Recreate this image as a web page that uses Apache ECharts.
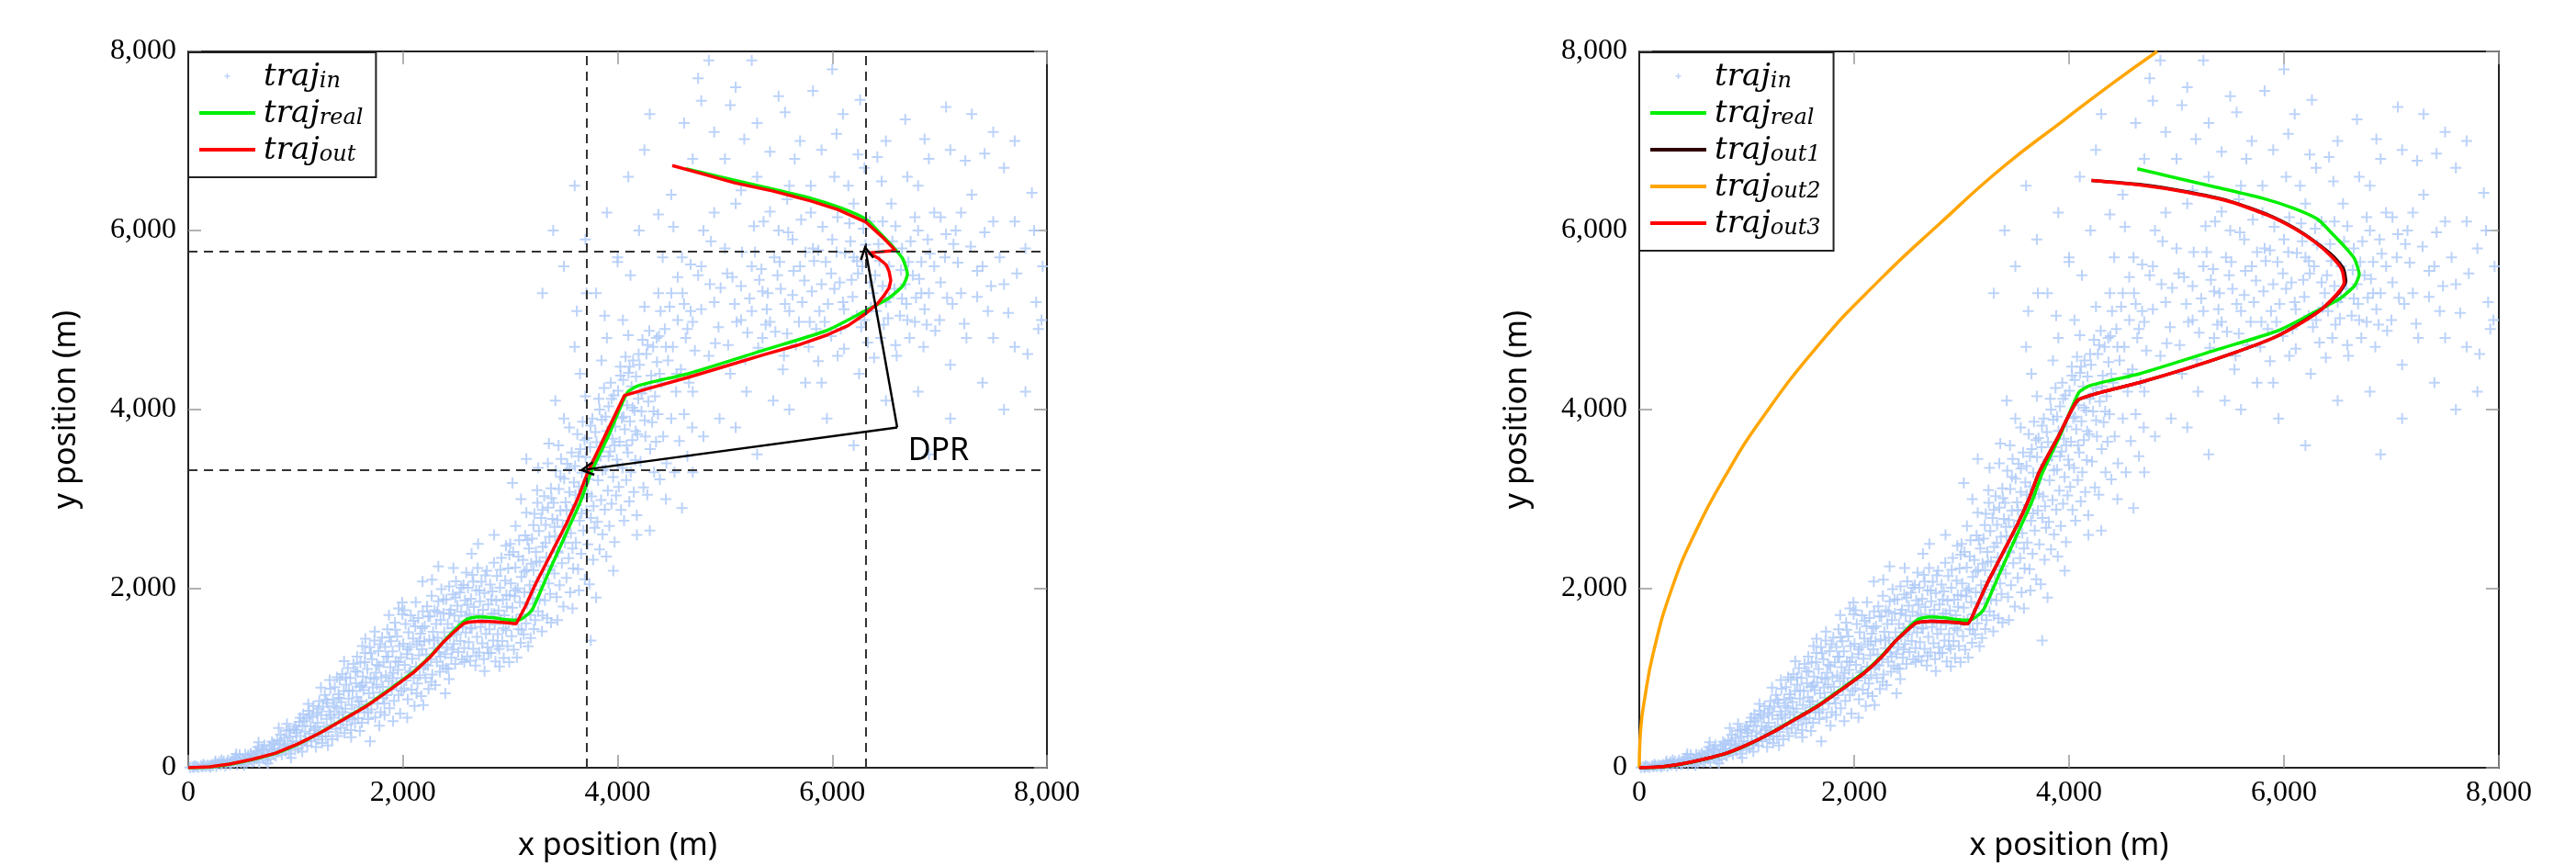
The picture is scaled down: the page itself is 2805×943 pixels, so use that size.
<!DOCTYPE html>
<html>
<head>
<meta charset="utf-8">
<title>traj</title>
<script src="https://cdn.jsdelivr.net/npm/echarts@6/dist/echarts.min.js"></script>
<style>
  html, body { margin: 0; padding: 0; background: #fff; }
  #chart { width: 2805px; height: 943px; }
</style>
</head>
<body>
<div id="chart"></div>
<script>
// axis range (both panels)
var axisMin = 0, axisMax = 8000, axisStep = 2000;

// noisy measured positions (shared by both panels)
var trajIn = [
  [15,3],[38,10],[52,2],[77,14],[95,6],[118,20],[133,9],[150,26],[166,12],[181,31],[197,17],[60,22],[140,35],
  [208,8],[219,36],[233,22],[247,51],[262,14],[275,40],[289,63],[301,27],[318,48],[331,72],[346,19],[358,57],[371,84],[385,36],[396,66],[254,75],[310,88],
  [404,44],[418,97],[426,61],[441,120],[455,33],[467,80],[479,143],[492,58],[506,104],[518,72],[531,150],[543,47],[556,118],[569,89],[582,160],[594,66],[447,155],[521,25],
  [606,130],[613,74],[627,188],[639,101],[648,231],[661,60],[674,152],[686,208],[697,117],[709,255],[722,84],[731,176],[745,135],[758,240],[767,98],[779,199],[792,151],[798,270],[655,285],[741,48],
  [806,212],[815,131],[828,305],[836,176],[849,258],[861,370],[872,145],[884,222],[893,331],[905,190],[916,412],[927,268],[938,158],[951,349],[962,236],[973,298],[984,433],[996,201],[843,444],[958,110],[920,490],
  [1007,288],[1014,421],[1026,219],[1033,512],[1045,354],[1052,265],[1064,470],[1071,598],[1083,306],[1090,402],[1102,549],[1109,247],[1121,637],[1128,380],[1140,465],[1147,296],[1159,566],[1166,688],[1178,351],[1185,443],[1197,612],[1190,232],[1118,712],[1062,180],
  [1204,502],[1212,318],[1221,744],[1229,410],[1238,586],[1246,276],[1255,681],[1263,460],[1272,812],[1280,352],[1289,545],[1297,724],[1306,401],[1314,627],[1323,883],[1331,480],[1340,319],[1348,762],[1357,558],[1365,901],[1374,434],[1382,668],[1391,355],[1399,820],[1236,895],[1318,980],[1385,1010],[1301,250],
  [1404,592],[1411,981],[1419,447],[1426,733],[1434,1047],[1441,521],[1449,856],[1456,386],[1464,659],[1471,928],[1479,480],[1486,1112],[1494,772],[1501,566],[1509,1003],[1516,420],[1524,699],[1531,858],[1539,1160],[1546,615],[1554,497],[1561,944],[1569,788],[1576,1071],[1584,553],[1591,675],[1599,903],[1452,1190],[1573,1240],[1518,342],[1599,410],
  [1604,1174],[1611,742],[1618,503],[1626,1018],[1633,866],[1640,618],[1647,1283],[1655,951],[1662,707],[1669,1102],[1676,544],[1684,832],[1691,1347],[1698,1006],[1705,652],[1713,1212],[1720,897],[1727,781],[1734,1420],[1742,562],[1749,1061],[1756,928],[1763,715],[1771,1302],[1778,1134],[1785,842],[1792,620],[1799,1011],[1694,296],[1650,1440],[1738,1520],[1780,470],[1622,1360],
  [1806,1455],[1813,903],[1820,1176],[1827,720],[1834,1348],[1841,1031],[1848,811],[1855,1547],[1862,1240],[1869,966],[1876,663],[1883,1122],[1890,1412],[1897,874],[1904,1301],[1911,1058],[1918,745],[1925,1620],[1932,1188],[1939,937],[1946,1466],[1953,1093],[1960,814],[1967,1360],[1974,604],[1981,1234],[1988,1002],[1995,1712],[1993,1845],[1870,1705],[1829,590],[1960,1780],[1908,520],
  [2003,1385],[2010,888],[2017,1150],[2024,1604],[2031,975],[2038,1270],[2045,764],[2052,1512],[2059,1061],[2066,1348],[2073,1702],[2080,872],[2087,1219],[2094,1443],[2101,1005],[2108,690],[2115,1580],[2122,1127],[2129,1376],[2136,940],[2143,1671],[2150,1256],[2157,1034],[2164,1498],[2171,801],[2178,1322],[2185,1745],[2192,1110],[2199,1412],[2183,2080],[2120,1850],[2040,560],[2190,700],
  [2204,1580],[2211,1002],[2218,1266],[2225,1803],[2232,1141],[2239,880],[2246,1432],[2253,1689],[2260,1213],[2267,1920],[2274,1041],[2281,1517],[2288,1336],[2295,1760],[2302,924],[2309,1605],[2316,1182],[2323,1452],[2330,1858],[2337,1290],[2344,1071],[2351,1650],[2358,1994],[2365,1387],[2372,1140],[2379,1722],[2386,1512],[2393,1268],[2330,2250],[2271,2100],[2395,830],
  [2403,1880],[2410,1347],[2417,1604],[2424,1104],[2431,2025],[2438,1465],[2445,1763],[2452,1230],[2459,1558],[2466,1936],[2473,1382],[2480,1701],[2487,1160],[2494,2081],[2501,1489],[2508,1810],[2515,1292],[2522,1636],[2529,1957],[2536,1415],[2543,1741],[2550,1210],[2557,1575],[2564,2040],[2571,1336],[2578,1868],[2585,1510],[2592,1698],[2599,1244],[2470,2230],[2590,2180],[2430,990],
  [2606,2010],[2613,1403],[2620,1718],[2627,1195],[2634,1886],[2641,1555],[2648,2154],[2655,1327],[2662,1794],[2669,1627],[2676,1140],[2683,1981],[2690,1462],[2697,2230],[2704,1710],[2711,1288],[2718,1860],[2725,1573],[2732,2077],[2739,1390],[2746,1765],[2753,1214],[2760,1952],[2767,1648],[2774,1496],[2781,2200],[2788,1347],[2795,1822],[2700,2500],[2640,2390],[2760,1080],
  [2806,1545],[2813,2046],[2820,1281],[2827,1720],[2834,1968],[2841,1420],[2848,2290],[2855,1602],[2862,1187],[2869,1866],[2876,2140],[2883,1492],[2890,1757],[2897,1325],[2904,2009],[2911,1654],[2918,2344],[2925,1415],[2932,1878],[2939,1225],[2946,1702],[2953,2090],[2960,1536],[2967,1798],[2974,1360],[2981,2225],[2988,1615],[2995,1924],[2850,2600],[2960,2480],[2900,1130],[2990,1180],
  [3006,2060],[3013,1470],[3020,1788],[3027,2410],[3034,1318],[3041,1915],[3048,2235],[3055,1655],[3062,1232],[3069,2002],[3076,1548],[3083,2541],[3090,1850],[3097,1395],[3104,2130],[3111,1712],[3118,2320],[3125,1490],[3132,1958],[3139,2595],[3146,1612],[3153,2207],[3160,1830],[3167,1356],[3174,2448],[3181,2038],[3188,1705],[3195,2280],[3050,2700],[3150,2850],[3100,3000],[3000,2500],[3020,3180],[3150,3450],[3190,1450],
  [3204,2560],[3211,1892],[3218,2205],[3225,2836],[3232,1648],[3239,2411],[3246,2080],[3253,2960],[3260,1745],[3267,2644],[3274,2303],[3281,1986],[3288,2790],[3295,1522],[3302,2467],[3309,2160],[3316,3033],[3323,1870],[3330,2712],[3337,2348],[3344,1670],[3351,2905],[3358,2058],[3365,2580],[3372,1940],[3379,3120],[3386,2251],[3393,2780],[3250,3100],[3350,3400],[3300,1700],[3220,1550],[3380,1620],[3260,3350],[3360,3620],
  [3404,2960],[3411,2170],[3418,2588],[3425,3317],[3432,1904],[3439,2766],[3446,2402],[3453,3112],[3460,2038],[3467,2871],[3474,3450],[3481,2285],[3488,2692],[3495,1800],[3502,3228],[3509,2512],[3516,2965],[3523,2120],[3530,3395],[3537,2760],[3544,2340],[3551,3080],[3558,1960],[3565,2620],[3572,3520],[3579,2875],[3586,2226],[3593,3188],[3450,3600],[3550,3800],[3500,3900],[3420,4100],[3440,1650],[3580,1780],
  [3604,3368],[3611,2515],[3618,2936],[3625,3725],[3632,2218],[3639,3142],[3646,2760],[3653,3560],[3660,2390],[3667,3296],[3674,3865],[3681,2648],[3688,3060],[3695,2105],[3702,3470],[3709,2873],[3716,3682],[3723,2496],[3730,3222],[3737,2050],[3744,3580],[3751,2790],[3758,3030],[3765,3900],[3772,2322],[3779,3385],[3786,2680],[3793,3750],[3650,4400],[3600,4700],[3700,4150],[3800,1900],[3750,1420],[3640,1980],[3620,5100],[3710,5300],
  [3804,3635],[3811,2745],[3818,3210],[3825,4120],[3832,2438],[3839,3478],[3846,2990],[3853,3888],[3860,2604],[3867,3580],[3874,4240],[3881,2882],[3888,3330],[3895,2360],[3902,3762],[3909,3096],[3916,4035],[3923,2700],[3930,3532],[3937,4300],[3944,2950],[3951,3675],[3958,3245],[3965,4160],[3972,2520],[3979,3810],[3986,3040],[3993,3440],[3900,4800],[3850,4550],[3960,2200],[3880,5050],
  [4004,4210],[4011,3135],[4018,3640],[4025,4480],[4032,2880],[4039,3905],[4046,3350],[4053,4330],[4060,2760],[4067,3780],[4074,4590],[4081,3212],[4088,4050],[4095,3520],[4102,4410],[4109,2975],[4116,3870],[4123,3300],[4130,4260],[4137,3660],[4144,4550],[4151,3080],[4158,3990],[4165,3435],[4172,4370],[4179,2820],[4186,3725],[4193,4120],[4050,5000],[4120,5500],[4000,5650],[4180,2600],[4100,4830],
  [4205,4500],[4214,3420],[4223,3980],[4232,4780],[4241,3130],[4250,4240],[4259,3700],[4268,4620],[4277,3050],[4286,4090],[4295,4880],[4304,3560],[4313,4380],[4322,3860],[4331,4700],[4340,3300],[4349,4150],[4358,3640],[4367,4530],[4376,3950],[4385,4820],[4394,3220],[4250,5150],[4380,5300],[4300,2650],
  [4410,4300],[4425,3700],[4440,4900],[4455,3400],[4470,4550],[4485,5150],[4500,3900],[4515,4700],[4530,3300],[4545,4200],[4560,5000],[4575,3650],[4590,4450],[4605,5300],[4620,3950],[4635,4800],[4650,3480],[4665,4300],[4680,5100],[4695,3800],[4600,2900],[4450,3000],
  [1005,390],[1042,560],[1097,300],[1133,590],[1172,420],[1213,660],[1248,350],[1286,760],[1327,590],[1362,690],[1407,780],[1438,620],[1468,1010],[1497,860],[1527,540],[1557,1080],[1588,740],[1617,920],[1645,1180],[1673,620],[1702,1280],[1731,990],[1758,1150],[1789,1380],[1816,780],[1846,1240],[1873,1460],[1902,1000],[1931,1540],[1958,1180],[1986,860],[2014,1760],[2043,1320],[2071,1080],[2098,1640],[2127,830],[2154,1410],[2181,1560],[2209,1150],[2236,1690],[2264,960],[2292,1420],[2320,1740],[2348,1240],[2376,1880],[2404,1110],[2432,1720],[2460,1320],[2488,1900],[2516,1570],[2544,2010],[2572,1180],[2600,1820],[2628,1560],[2656,2080],[2684,1250],[2712,1980],[2740,1650],[2768,2150],[2796,1280],[2824,1880],[2852,1720],[2880,1360],[2908,2210],[2936,1560],[2964,1930],[2992,2380],[3020,1640],[3048,1980],[3076,2360],[3104,1540],[3132,2190],[3160,2540],[3188,1960],[3216,2710],[3244,2300],[3272,1880],[3300,2880],[3328,2510],[3356,2210],[3384,3010],[3412,2690],[3440,2420],[3468,3250],[3496,2580],[3524,2880],[3552,3340],[3580,2450],[3608,3050],[3636,3480],[3664,2840],[3692,3660],[3720,3060],[3748,3820],[3776,2920],[3804,3440],[3832,4000],[3860,3320],[3888,3920],[3916,3480],[3944,4120],[3972,3600],[4000,3380],[4028,4380],[4056,3920],[4084,3600],[4112,4480],[4140,4020],[4168,3760],[4196,4620],[4224,4180],[4252,3880],[4280,4720],[4308,4260],[4336,3980],[4364,4800],[4392,4400],
  [860,300],[940,420],[780,290],[700,200],[640,170],[560,140],[900,250],[1000,460],[1080,520],
  [4400,5100],[4450,4700],[4500,5300],[4550,4400],[4600,5700],[4650,4900],[4700,4200],[4750,5500],[4800,6000],[4850,4600],[4900,5200],[4950,3900],[5000,5800],[5050,4400],[5100,6300],[5150,5000],[5200,4200],[5250,5600],[5300,6600],[5350,4800],[5400,5300],[5450,4100],[5500,6000],[5550,4600],[5600,5100],[5650,6800],[5700,5600],[5750,4300],[5800,6200],[5850,4900],[5900,5400],[5950,3900],[6000,5900],[6050,4600],[6100,5200],[6150,6500],[6200,5700],[6250,4400],[6300,5000],[6350,6100],[6400,5500],[6450,4800],[6500,5200],[6550,6300],[6600,4600],[6650,5800],[6700,5000],[6750,5500],[6800,6000],[6850,4700],[6900,5300],[6950,6200],[7000,5000],[7050,5700],[7100,4500],[7150,6000],[7200,5300],[7250,4800],[7300,6400],[7400,5600],[7450,5100],[7500,6100],[7600,5400],[7700,4700],[7800,5800],[7900,5200],
  [5250,5100],[5320,5450],[5380,4950],[5460,5700],[5520,5350],[5580,4850],[5640,5550],[5720,5200],[5780,4700],[5820,5800],[5880,5100],[5940,5650],[6020,5350],[6080,4900],[6120,5750],[6180,5450],[6230,5050],[6280,5600],[6330,4750],[6380,5300],[6430,5850],[6480,4950],[6530,5600],[6580,5350],[6630,5050],[6680,5400],[6720,4800],[6780,5250],[6830,5650],[6880,4950],
  [5030,4720],[5070,5480],[5110,4980],[5160,5760],[5190,4560],[5230,5240],[5270,6050],[5310,4690],[5340,5570],[5390,5120],[5420,6210],[5470,4870],[5510,5650],[5540,4450],[5590,5980],[5630,5280],[5660,4720],[5710,6120],[5740,5440],[5790,4980],[5830,5660],[5870,4540],[5910,6040],[5960,5180],[5990,4820],[6040,5760],[6070,5420],[6110,4680],[6160,6080],[6190,5260],[6240,5520],[6270,4920],[6310,5840],[6360,5140],[6390,4580],[6440,5660],[6470,5380],[6520,5020],[6560,5880],[6590,4720],[6640,5560],[6690,5180],[6730,5880],[6770,4980],[6810,5460],[6860,5120],[6910,5740],[6960,4880],[7010,5420],[7060,5960],[7120,5180],[7170,5640],[7230,4960],[7290,5820],[7350,5260],[7420,5980],[7480,5380],[7560,5700],[7640,5080],[7720,5520],[4960,5360],[4910,4740],[4870,5880],[4780,5120],[4720,4660],[4680,5620],[4560,5480],[4520,6040],[4420,5700],[4380,6180],
  [4620,5180],[4700,4980],[4780,5600],[4860,5400],[4940,4920],[5020,5520],[5090,5180],[5150,5380],[5210,4860],[5280,5760],[5350,5320],[5420,4980],[5490,5500],[5560,5180],[5630,5900],[5690,4980],[5750,5760],[5810,5320],[5870,5780],[5930,4980],[5990,5520],[6050,6150],[6110,5120],[6170,5880],[6230,5660],[6290,6020],[6350,5420],[6410,5100],[6470,6100],[6530,5250],[6590,6050],[6650,5240],[6710,5650],[6770,6150],[6830,5300],[6890,5900],[6950,5600],[7010,6150],[7070,5250],[7130,5850],[5360,6100],[5580,6350],[5800,6500],[6020,6600],[6240,6850],[6460,6550],[4900,6200],[5150,6450],[7200,6200],[7350,5550],
  [4500,6400],[4700,6800],[4900,7100],[5100,7600],[5300,7200],[5500,7500],[5700,7000],[5900,6900],[6100,7300],[6300,6700],[6500,7000],[6700,6600],[6900,6800],[7100,6900],[7300,7300],[7500,7100],[5000,6800],[5600,6500],[6200,6300],[6800,6500],[4850,7900],[5050,7400],[6000,7800],[7600,6700],[7700,7000],
  [4620,7200],[4780,7450],[5180,7020],[5420,6880],[5560,7320],[5820,7560],[6040,7080],[6260,7460],[6420,6820],[6680,7240],[6860,7020],[7060,7380],[7240,6780],[7420,6860],[7860,6420],[7960,5600],[4750,7700],[5250,7900],
  [7820,4620],[7920,4900],[7700,6100],[7880,6000],
  [4800,3700],[5100,3800],[5300,3500],[5600,4000],[5900,4300],[6200,3600],[6500,4100],[6800,4200],[7100,3900],[7400,4300],[7600,4000],[7800,4200],[7950,5000],[7500,4800],[6900,3500],[4700,3300],
  [3300,5300],[3500,5600],[3700,5900],[3900,6200],[4100,6600],[4300,7300],[3600,6500],[4000,5700],[4200,6000],[3800,5300],[4250,6900],[3400,6000]
];

// ground truth trajectory
var trajReal = [
  [0,0],[200,8],[385,38],[600,92],[813,160],[1030,268],[1241,400],[1450,545],[1668,700],[1880,880],[2096,1070],[2250,1240],[2379,1410],[2500,1560],[2600,1660],[2700,1685],[2850,1675],[3000,1650],[3080,1650],[3150,1700],[3208,1773],[3350,2160],[3525,2629],[3650,2960],[3750,3290],[3920,3720],[4090,4189],[4200,4270],[4663,4403],[5373,4668],[5947,4882],[6314,5106],[6519,5238],[6656,5381],[6700,5513],[6656,5686],[6588,5788],[6460,5951],[6314,6125],[6092,6247],[5801,6360],[5373,6482],[4950,6600],[4635,6690]
];

// left panel output
var trajOut = [
  [0,0],[200,10],[385,41],[600,95],[813,163],[1030,270],[1241,397],[1450,540],[1668,693],[1880,870],[2096,1060],[2250,1230],[2379,1406],[2480,1520],[2567,1610],[2620,1628],[2720,1635],[2850,1630],[2980,1618],[3055,1608],[3140,1800],[3234,2048],[3380,2390],[3525,2731],[3630,3010],[3722,3302],[3900,3750],[4064,4158],[4300,4240],[4663,4362],[5020,4490],[5373,4617],[5680,4720],[5947,4831],[6150,4940],[6314,5075],[6420,5180],[6485,5279],[6530,5360],[6545,5442],[6530,5540],[6503,5615],[6430,5690],[6340,5750],[6588,5778],[6460,5935],[6314,6093],[6050,6235],[5801,6329],[5450,6440],[5091,6532],[4800,6630],[4509,6726]
];

// right panel outputs
var trajOut1 = [
  [0,0],[200,10],[385,41],[600,95],[813,163],[1030,270],[1241,397],[1450,540],[1668,693],[1880,870],[2096,1060],[2250,1230],[2379,1406],[2480,1520],[2567,1610],[2620,1628],[2720,1635],[2850,1630],[2980,1618],[3055,1608],[3140,1800],[3234,2048],[3380,2390],[3525,2731],[3630,3010],[3722,3302],[3900,3700],[4077,4100],[4231,4170],[4650,4300],[5100,4460],[5550,4640],[5900,4800],[6150,4965],[6360,5130],[6515,5310],[6575,5430],[6555,5570],[6460,5710],[6300,5865],[6100,6025],[5850,6175],[5500,6325],[5080,6435],[4650,6515],[4209,6560]
];
var trajOut2 = [
  [0,0],[5,260],[20,520],[43,720],[128,1270],[299,1987],[530,2650],[812,3280],[1094,3820],[1667,4720],[2239,5450],[2803,6084],[3376,6700],[3949,7230],[4400,7640],[4820,8000]
];
var trajOut3 = [
  [0,0],[200,10],[385,41],[600,95],[813,163],[1030,270],[1241,397],[1450,540],[1668,693],[1880,870],[2096,1060],[2250,1230],[2379,1406],[2480,1520],[2567,1610],[2620,1628],[2720,1635],[2850,1630],[2980,1618],[3055,1608],[3140,1800],[3234,2048],[3380,2390],[3525,2731],[3630,3010],[3722,3302],[3900,3700],[4077,4100],[4231,4170],[4650,4300],[5100,4460],[5550,4640],[5900,4800],[6150,4960],[6350,5120],[6500,5300],[6560,5420],[6540,5560],[6450,5700],[6300,5860],[6100,6020],[5850,6170],[5500,6320],[5080,6430],[4650,6510],[4209,6560]
];

// DPR annotation (left panel)
var dashX = [3713, 6314];
var dashY = [3330, 5768];
var dprCorner = [6605, 3801];
var dprTargets = [[3713, 3332], [6314, 5758]];
var dprLabelAt = [6990, 3536];

var plusPath = 'path://M5,0h2v5h5v2h-5v5h-2v-5h-5v-2h5z';
var legendPlus = 'path://M0,0h0.01v0.01h-0.01z M40,40h0.01v0.01h-0.01z M19,16h2v3h3v2h-3v3h-2v-3h-3v-2h3z';
var legendBar = 'path://M0,0h60v4h-60z';
var arrowPath = 'path://M5,0L10,9L8.6,9.8L5,3L1.4,9.8L0,9Z';

var chart = echarts.init(document.getElementById('chart'));

function fmt(v) {
  return v === 0 ? '0' : String(v / 1000) + ',000';
}

function xAx(g, pos, show) {
  return {
    type: 'value', gridIndex: g, position: pos,
    min: axisMin, max: axisMax, interval: axisStep,
    name: show ? 'x position (m)' : '', nameLocation: 'middle', nameGap: 68,
    nameTextStyle: { fontFamily: 'Noto Sans', fontSize: 34, color: '#000' },
    axisLine: { show: true, onZero: false, lineStyle: { color: '#222', width: 2 } },
    axisTick: { show: true, inside: true, length: 14, lineStyle: { color: '#999', width: 1.5 } },
    axisLabel: { show: show, fontFamily: 'Liberation Serif', fontSize: 32, color: '#000', margin: 12, formatter: fmt },
    splitLine: { show: false }
  };
}
function yAx(g, pos, show) {
  return {
    type: 'value', gridIndex: g, position: pos,
    min: axisMin, max: axisMax, interval: axisStep,
    name: show ? 'y position (m)' : '', nameLocation: 'middle', nameGap: 116,
    nameTextStyle: { fontFamily: 'Noto Sans', fontSize: 34, color: '#000' },
    axisLine: { show: true, onZero: false, lineStyle: { color: '#222', width: 2 } },
    axisTick: { show: true, inside: true, length: 14, lineStyle: { color: '#999', width: 1.5 } },
    axisLabel: { show: show, fontFamily: 'Liberation Serif', fontSize: 32, color: '#000', margin: 13, formatter: fmt },
    splitLine: { show: false }
  };
}

function scatterSeries(g) {
  return {
    type: 'scatter', name: 'in', xAxisIndex: 2 * g, yAxisIndex: 2 * g,
    data: trajIn, symbol: plusPath, symbolSize: 12,
    itemStyle: { color: '#abc8f8' }, z: 1, silent: true
  };
}
function lineSeries(name, data, color, g, z, smooth) {
  return {
    type: 'line', name: name, xAxisIndex: 2 * g, yAxisIndex: 2 * g,
    data: data, showSymbol: false, symbol: 'none', smooth: smooth || false,
    lineStyle: { color: color, width: 3.5 }, itemStyle: { color: color },
    z: z, silent: true
  };
}

var richText = {
  a: { fontFamily: 'DejaVu Serif', fontStyle: 'italic', fontSize: 34, lineHeight: 36, verticalAlign: 'bottom', color: '#000', padding: [0, 0, 0, 4] },
  b: { fontFamily: 'DejaVu Serif', fontStyle: 'italic', fontSize: 24, lineHeight: 14, verticalAlign: 'bottom', color: '#000' }
};
function legendBox(left, names) {
  return {
    orient: 'vertical', left: left, top: 57,
    data: names.map(function (n) { return { name: n, icon: n === 'in' ? legendPlus : legendBar }; }),
    backgroundColor: '#fff', borderColor: '#222', borderWidth: 2, borderRadius: 0,
    padding: [10, 14, 12, 12], itemWidth: 61, itemHeight: 30, itemGap: 6,
    selectedMode: false,
    formatter: function (n) { return '{a|traj}{b|' + n + '}'; },
    textStyle: { rich: richText }
  };
}

var redLeft = lineSeries('out', trajOut, '#ff0000', 0, 4);
redLeft.markLine = {
  silent: true, animation: false, symbol: ['none', 'none'], symbolSize: 16,
  label: { show: false },
  lineStyle: { color: '#333', type: [10, 7], width: 2 },
  data: [
    { xAxis: dashX[0] }, { xAxis: dashX[1] }, { yAxis: dashY[0] }, { yAxis: dashY[1] },
    [ { coord: dprCorner, symbol: 'none', lineStyle: { type: 'solid', color: '#000', width: 2.5 } }, { coord: dprTargets[0], symbol: arrowPath } ],
    [ { coord: dprCorner, symbol: 'none', lineStyle: { type: 'solid', color: '#000', width: 2.5 } }, { coord: dprTargets[1], symbol: arrowPath } ]
  ]
};
redLeft.markPoint = {
  silent: true, animation: false, symbol: 'circle', symbolSize: 0,
  data: [ { coord: dprLabelAt, label: { show: true, position: 'inside', formatter: 'DPR', fontFamily: 'Noto Sans', fontSize: 34, color: '#000' } } ]
};

chart.setOption({
  animation: false,
  backgroundColor: '#fff',
  grid: [
    { left: 205, top: 56, width: 935, height: 785 },
    { left: 1785, top: 56, width: 936, height: 785 }
  ],
  xAxis: [ xAx(0, 'bottom', true), xAx(0, 'top', false), xAx(1, 'bottom', true), xAx(1, 'top', false) ],
  yAxis: [ yAx(0, 'left', true), yAx(0, 'right', false), yAx(1, 'left', true), yAx(1, 'right', false) ],
  legend: [
    legendBox(205, ['in', 'real', 'out']),
    legendBox(1785, ['in', 'real', 'out1', 'out2', 'out3'])
  ],
  series: [
    scatterSeries(0),
    lineSeries('real', trajReal, '#00ee00', 0, 3, 0.2),
    redLeft,
    scatterSeries(1),
    lineSeries('real', trajReal, '#00ee00', 1, 3, 0.2),
    lineSeries('out1', trajOut1, '#2e0000', 1, 4, 0.2),
    lineSeries('out2', trajOut2, '#ffa500', 1, 4, 0.5),
    lineSeries('out3', trajOut3, '#ff0000', 1, 5, 0.2)
  ]
});
</script>
</body>
</html>
